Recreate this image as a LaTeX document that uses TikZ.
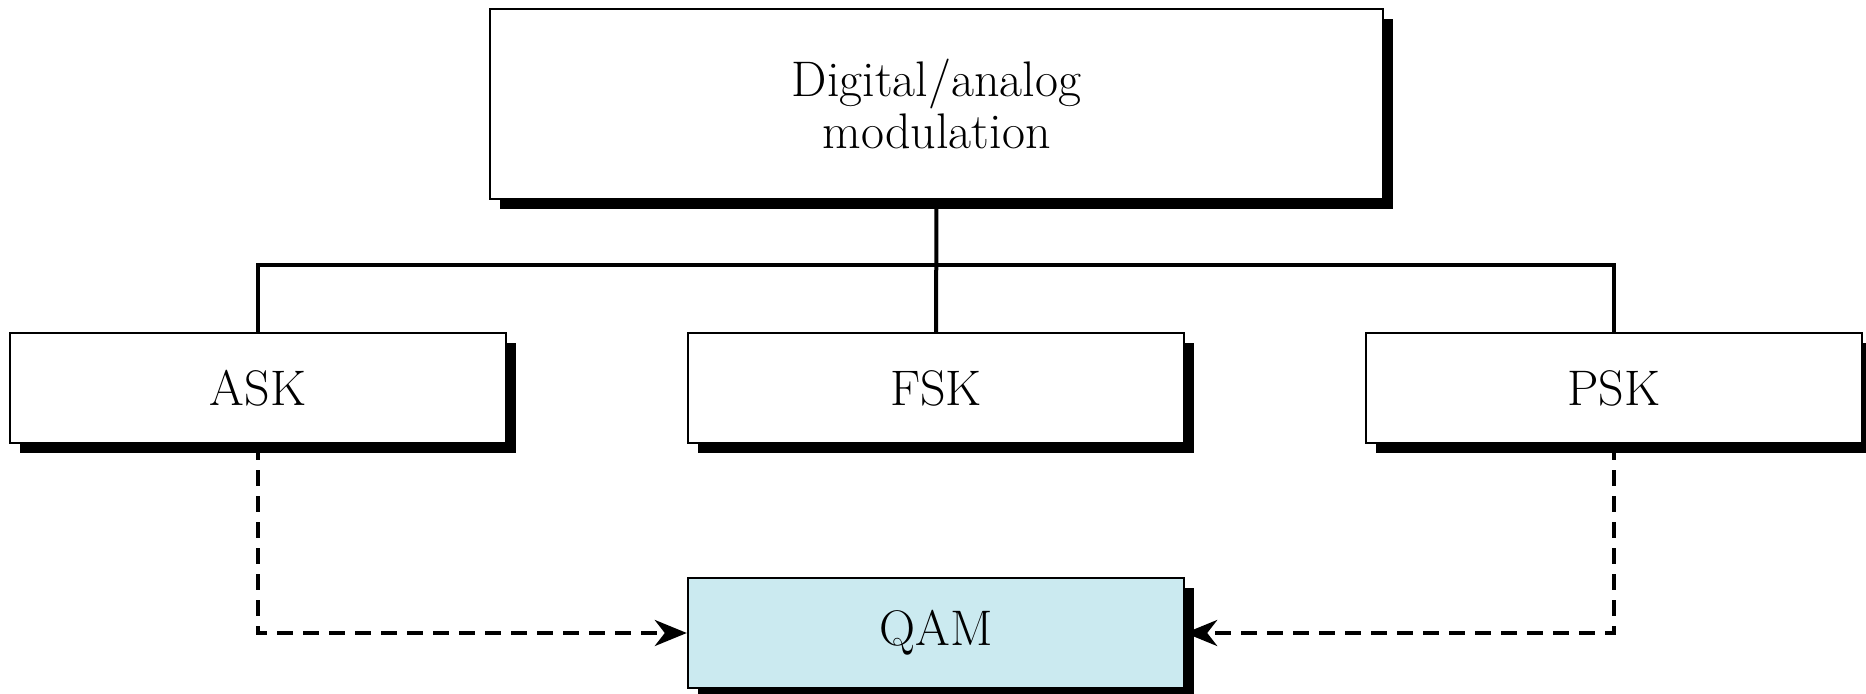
\documentclass[tikz,border=0pt]{standalone}
\usetikzlibrary{shadows,arrows.meta}
\definecolor{qamblue}{RGB}{203,234,240}
\begin{document}
\begin{tikzpicture}[x=0.5pt,y=-0.5pt,
  box/.style={draw=black,line width=1.2pt,fill=white,inner sep=0pt,align=center,
    font=\fontsize{25}{26}\selectfont,
    drop shadow={shadow xshift=5pt,shadow yshift=-5pt,fill=black,opacity=1}},
  conn/.style={line width=2pt},
  dconn/.style={line width=2pt,dash pattern=on 8pt off 5pt,-{Stealth[length=16pt,width=13pt,inset=5pt]}}]
\useasboundingbox (0,0) rectangle (1866,694);
\node[box,minimum width=446.5pt,minimum height=94.75pt] (top) at (936.5,104) {Digital/analog\\modulation};
\node[box,minimum width=248pt,minimum height=55pt] (ask) at (258,388) {ASK};
\node[box,minimum width=248pt,minimum height=55pt] (fsk) at (936,388) {FSK};
\node[box,minimum width=248pt,minimum height=55pt] (psk) at (1614,388) {PSK};
\node[box,fill=qamblue,minimum width=248pt,minimum height=55pt] (qam) at (936,633) {QAM};
\coordinate (bus) at (936,265);
\draw[conn] (top.south) -- (fsk.north);
\draw[conn] (ask.north) -- (ask.north |- bus) -- (psk.north |- bus) -- (psk.north);
\draw[dconn] (ask.south) |- (qam.west);
\draw[dconn] (psk.south) |- (qam.east);
\end{tikzpicture}
\end{document}
